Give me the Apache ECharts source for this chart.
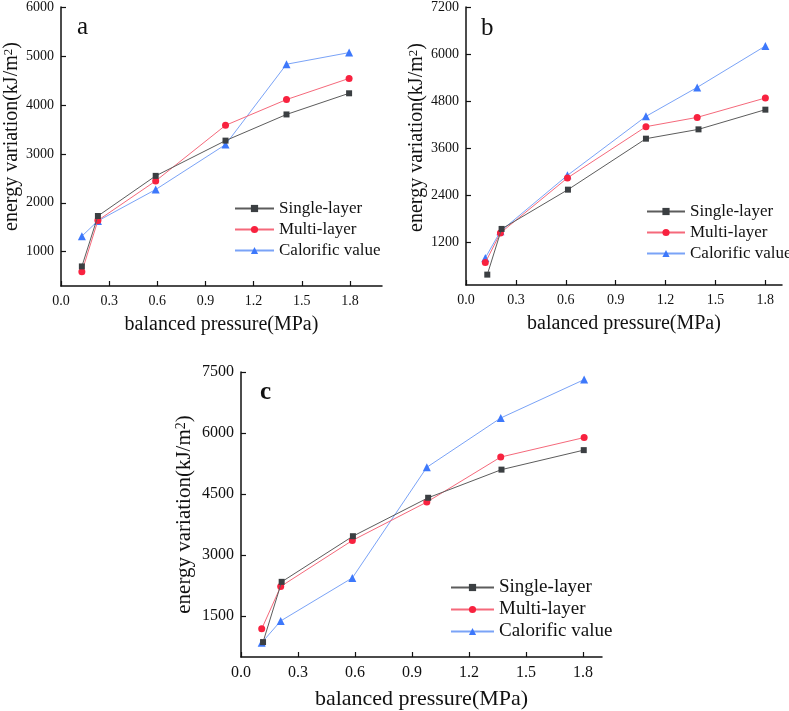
<!DOCTYPE html>
<html>
<head>
<meta charset="utf-8">
<script src="https://cdn.jsdelivr.net/npm/echarts@6/dist/echarts.min.js"></script>
<style>
  html, body { margin: 0; padding: 0; background: #fff; }
  #chart { width: 789px; height: 711px; }
</style>
</head>
<body>
<div id="chart"></div>
<script>
  // 横轴 balanced pressure(MPa)
  var xTicks = [0, 0.3, 0.6, 0.9, 1.2, 1.5, 1.8];

  // panel a
  var aX = [0.13, 0.23, 0.59, 1.025, 1.405, 1.795];
  var aSingle = [700, 1730, 2550, 3270, 3805, 4237];
  var aMulti = [590, 1640, 2447, 3582, 4109, 4541];
  var aCalorific = [1318, 1630, 2271, 3189, 4831, 5068];
  var aYTicks = [1000, 2000, 3000, 4000, 5000, 6000];

  // panel b
  var bSingleX = [0.128, 0.214, 0.613, 1.082, 1.398, 1.8];
  var bX = [0.116, 0.207, 0.61, 1.082, 1.39, 1.8];
  var bSingle = [365, 1532, 2535, 3837, 4075, 4578];
  var bMulti = [672, 1430, 2834, 4144, 4381, 4876];
  var bCalorific = [791, 1471, 2900, 4407, 5147, 6204];
  var bYTicks = [1200, 2400, 3600, 4800, 6000, 7200];

  // panel c
  var cSingleX = [0.116, 0.214, 0.589, 0.985, 1.371, 1.804];
  var cX = [0.109, 0.209, 0.586, 0.978, 1.367, 1.806];
  var cSingle = [866, 2346, 3467, 4411, 5102, 5581];
  var cMulti = [1191, 2232, 3362, 4305, 5411, 5890];
  var cCalorific = [850, 1386, 2443, 5159, 6370, 7313];
  var cYTicks = [1500, 3000, 4500, 6000, 7500];

  var names = ['Single-layer', 'Multi-layer', 'Calorific value'];
  var font = "'Liberation Serif', 'Times New Roman', serif";

  function pairs(xs, ys) {
    return ys.map(function (y, i) { return [xs[i], y]; });
  }

  // 三条线的样式
  var styles = [
    { symbol: 'rect', size: 6, color: '#3b3f42', line: '#5c5c5c' },
    { symbol: 'circle', size: 7, color: '#f8223f', line: '#f5697b' },
    { symbol: 'triangle', size: 8, color: '#3d78fb', line: '#7aa3f7' }
  ];

  function makeSeries(idx, k, data) {
    var s = styles[k];
    return {
      type: 'line',
      name: names[k],
      xAxisIndex: idx,
      yAxisIndex: idx,
      data: data,
      symbol: s.symbol,
      symbolSize: s.size,
      showAllSymbol: true,
      itemStyle: { color: s.color },
      lineStyle: { color: s.line, width: 1 },
      z: 3 - k
    };
  }

  function xAxis(idx, max, fs, gap, nameFs) {
    return {
      type: 'value', gridIndex: idx, min: 0, max: max,
      name: 'balanced pressure(MPa)', nameLocation: 'middle', nameGap: gap,
      nameTextStyle: { fontFamily: font, fontSize: nameFs, color: '#111' },
      axisLine: { onZero: false, lineStyle: { color: '#111', width: 1.5 } },
      axisTick: { inside: true, length: 5, customValues: xTicks, lineStyle: { color: '#111', width: 1.2 } },
      axisLabel: { customValues: xTicks, margin: 8, fontFamily: font, fontSize: fs, color: '#111',
        formatter: function (v) { return v.toFixed(1); } },
      splitLine: { show: false }
    };
  }

  function yAxis(idx, min, max, ticks, fs, gap, nameFs, shift) {
    return {
      type: 'value', gridIndex: idx, min: min, max: max,
      name: 'energy variation(kJ/m{s|2})', nameLocation: 'middle', nameGap: gap,
      nameTextStyle: { fontFamily: font, fontSize: nameFs, color: '#111', padding: [0, 0, 0, shift],
        rich: { s: { fontFamily: font, fontSize: Math.round(nameFs * 0.65), color: '#111', verticalAlign: 'top' } } },
      axisLine: { lineStyle: { color: '#111', width: 1.5 } },
      axisTick: { inside: true, length: 5, customValues: ticks, lineStyle: { color: '#111', width: 1.2 } },
      axisLabel: { customValues: ticks, margin: 7, fontFamily: font, fontSize: fs, color: '#111',
        formatter: function (v) { return String(v); } },
      splitLine: { show: false }
    };
  }

  function legend(left, top, w, fs, gap) {
    return {
      data: names, orient: 'vertical', left: left, top: top, align: 'left',
      itemWidth: w, itemHeight: 9, itemGap: gap, padding: 0,
      textStyle: { fontFamily: font, fontSize: fs, color: '#111' }
    };
  }

  var chart = echarts.init(document.getElementById('chart'), null, { renderer: 'canvas' });
  var option = {
    animation: false,
    backgroundColor: '#fff',
    grid: [
      { left: 61, top: 5, width: 321, height: 281 },
      { left: 466, top: 7, width: 316, height: 278 },
      { left: 241, top: 372, width: 361, height: 287 }
    ],
    xAxis: [
      xAxis(0, 2.0, 14, 29, 20),
      xAxis(1, 1.9, 14, 29, 20),
      xAxis(2, 1.9, 16, 31, 22)
    ],
    yAxis: [
      yAxis(0, 300, 6000, aYTicks, 14, 38, 20, 20),
      yAxis(1, 100, 7200, bYTicks, 14, 37, 20, 17),
      yAxis(2, 500, 7500, cYTicks, 16, 46, 21, 0)
    ],
    legend: [
      legend(234, 200, 39, 17, 4),
      legend(646, 203, 38, 17, 4),
      legend(450, 578, 43, 19, 3)
    ],
    graphic: [
      { type: 'text', left: 77, top: 15, style: { text: 'a', font: '25px ' + font, fill: '#111' } },
      { type: 'text', left: 481, top: 16, style: { text: 'b', font: '25px ' + font, fill: '#111' } },
      { type: 'text', left: 260, top: 380, style: { text: 'c', font: 'bold 25px ' + font, fill: '#111' } }
    ],
    series: [
      makeSeries(0, 0, pairs(aX, aSingle)),
      makeSeries(0, 1, pairs(aX, aMulti)),
      makeSeries(0, 2, pairs(aX, aCalorific)),
      makeSeries(1, 0, pairs(bSingleX, bSingle)),
      makeSeries(1, 1, pairs(bX, bMulti)),
      makeSeries(1, 2, pairs(bX, bCalorific)),
      makeSeries(2, 0, pairs(cSingleX, cSingle)),
      makeSeries(2, 1, pairs(cX, cMulti)),
      makeSeries(2, 2, pairs(cX, cCalorific))
    ]
  };
  chart.setOption(option);
</script>
</body>
</html>
